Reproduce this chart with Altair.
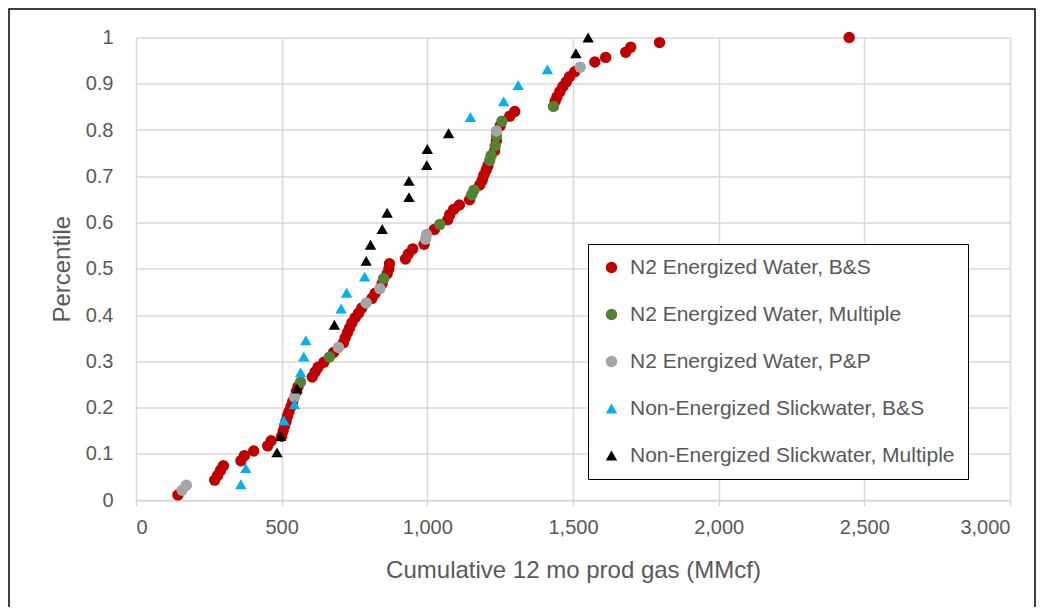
import altair as alt
import pandas as pd

series_names = [
    "N2 Energized Water, B&S",
    "N2 Energized Water, Multiple",
    "N2 Energized Water, P&P",
    "Non-Energized Slickwater, B&S",
    "Non-Energized Slickwater, Multiple",
]
colors = ["#C00000", "#548235", "#A5A5A5", "#00B0F0", "#000000"]
shapes = ["circle", "circle", "circle", "triangle-up", "triangle-up"]

red_gas = [144, 270, 280, 290, 300, 360, 372, 404, 452, 464, 500, 505, 510, 515, 520,
           525, 532, 538, 550, 556, 605, 615, 625, 645, 678, 712, 718, 726, 733, 741,
           752, 764, 775, 810, 821, 845, 862, 868, 870, 925, 935, 950, 989, 1024, 1070,
           1077, 1090, 1110, 1145, 1180, 1188, 1194, 1202, 1208, 1231, 1237, 1250, 1283,
           1300, 1439, 1445, 1455, 1465, 1477, 1488, 1506, 1575, 1612, 1681, 1698, 1797, 2448]
red_pct = [.011, .043, .053, .064, .074, .085, .096, .106, .117, .128, .138, .149, .160, .170, .181,
           .191, .202, .213, .234, .245, .266, .277, .287, .298, .319, .340, .351, .362, .372, .383,
           .394, .404, .415, .436, .447, .468, .489, .500, .511, .521, .532, .543, .553, .585, .606,
           .617, .628, .638, .649, .681, .691, .702, .713, .723, .755, .777, .809, .830,
           .840, .862, .872, .883, .894, .904, .915, .926, .947, .957, .968, .979, .989, 1.0]

green_gas = [565, 664, 850, 1043, 1152, 1160, 1214, 1219, 1233, 1237, 1256, 1433]
green_pct = [.255, .309, .479, .596, .660, .670, .734, .745, .766, .787, .819, .851]

gray_gas = [158, 173, 544, 695, 790, 837, 994, 997, 1237, 1525]
gray_pct = [.021, .032, .223, .330, .426, .457, .564, .574, .798, .936]

blue_gas = [360, 377, 508, 544, 565, 576, 583, 704, 723, 785, 1148, 1262, 1312, 1412]
blue_pct = [.034, .069, .172, .207, .276, .310, .345, .414, .448, .483, .828, .862, .897, .931]

black_gas = [484, 496, 553, 681, 790, 805, 845, 862, 937, 937, 998, 1000, 1073, 1510, 1552]
black_pct = [.103, .138, .241, .379, .517, .552, .586, .621, .655, .690, .724, .759, .793, .966, 1.0]

x_ticks = [0, 500, 1000, 1500, 2000, 2500, 3000]
y_ticks = [0, 0.1, 0.2, 0.3, 0.4, 0.5, 0.6, 0.7, 0.8, 0.9, 1.0]

all_series = [(red_gas, red_pct), (green_gas, green_pct), (gray_gas, gray_pct),
              (blue_gas, blue_pct), (black_gas, black_pct)]
rows = []
for i, (xs, ps) in enumerate(all_series):
    for xv, pv in zip(xs, ps):
        rows.append({"series": series_names[i], "gas": xv, "pct": pv, "ord": i})
df = pd.DataFrame(rows)

FONT = "Liberation Sans"
TXT = "#595959"
GRID = "#D9D9D9"

legend = alt.Legend(
    title=None, orient="none", legendX=452, legendY=206.5,
    strokeColor="black", fillColor="white", padding=13,
    labelFont=FONT, labelFontSize=21, labelColor=TXT,
    symbolSize=55, labelOffset=8, rowPadding=25, labelLimit=600,
)

points = alt.Chart(df).mark_point(filled=True, opacity=1, strokeWidth=0).encode(
    x=alt.X("gas:Q", scale=alt.Scale(domain=[0, 3000], nice=False),
            axis=alt.Axis(values=x_ticks, format=",.0f", title="Cumulative 12 mo prod gas (MMcf)",
                          grid=True, gridColor=GRID, gridWidth=1.5,
                          domainColor=GRID, domainWidth=1.5, tickColor=GRID, tickWidth=1.5,
                          tickSize=6, labelPadding=11, labelFont=FONT, labelFontSize=20,
                          labelColor=TXT, titleFont=FONT, titleFontSize=24, titleColor=TXT,
                          titleFontWeight="normal", titlePadding=21)),
    y=alt.Y("pct:Q", scale=alt.Scale(domain=[0, 1], nice=False),
            axis=alt.Axis(values=y_ticks, format=".1~f", title="Percentile",
                          grid=True, gridColor=GRID, gridWidth=1.5, domain=False,
                          ticks=False, tickSize=0, labelPadding=23, labelFont=FONT,
                          labelFontSize=20, labelColor=TXT, titleFont=FONT, titleFontSize=24,
                          titleColor=TXT, titleFontWeight="normal", titlePadding=11)),
    color=alt.Color("series:N", scale=alt.Scale(domain=series_names, range=colors), legend=legend),
    shape=alt.Shape("series:N", scale=alt.Scale(domain=series_names, range=shapes), legend=legend),
    size=alt.Size("series:N", scale=alt.Scale(domain=series_names, range=[130, 130, 130, 235, 235]),
                  legend=None),
    order=alt.Order("ord:Q"),
)

border = alt.Chart(pd.DataFrame({"k": [0]})).mark_rect(
    fill="transparent", stroke="black", strokeWidth=1.5
).encode(x=alt.value(-127), x2=alt.value(899), y=alt.value(-28.5), y2=alt.value(640))

chart = alt.layer(border, points).properties(
    width=874, height=462.5,
    padding={"left": 128, "top": 29.5, "right": 32, "bottom": 107},
    autosize=alt.AutoSizeParams(type="none"),
).configure_view(stroke="transparent")

chart.save("out.html", embed_options={"renderer": "svg", "actions": False})
